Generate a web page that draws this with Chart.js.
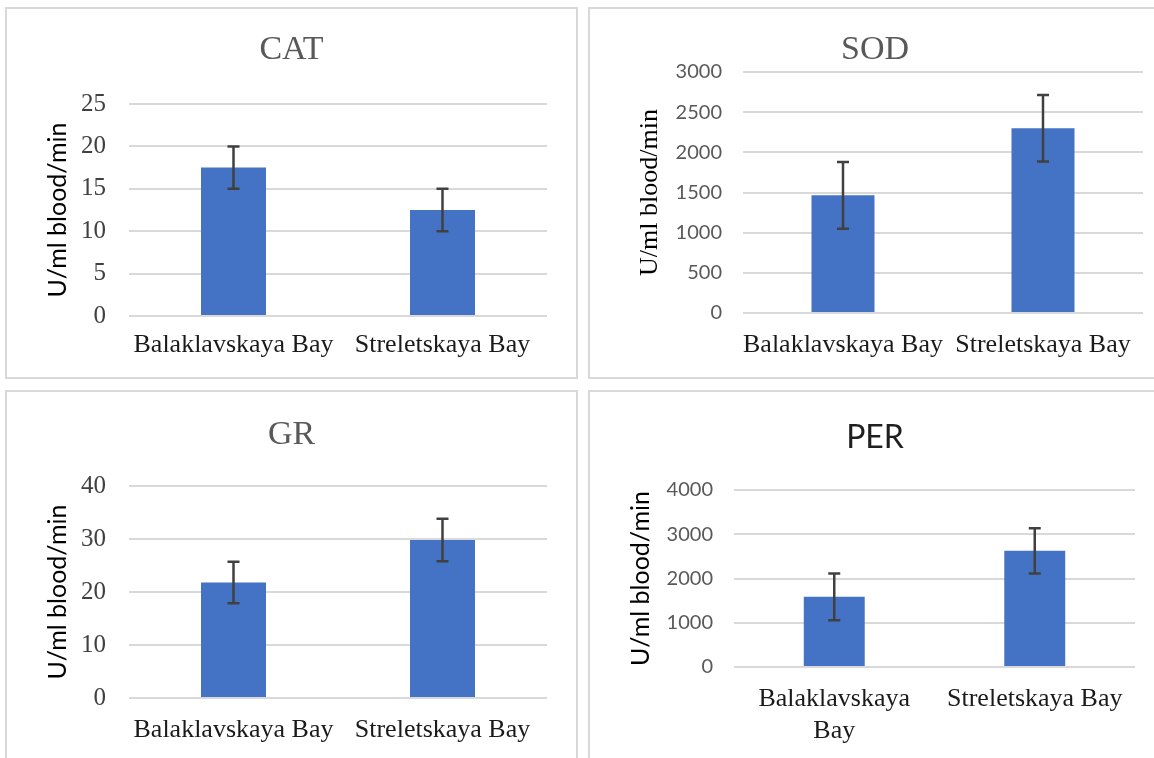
<!DOCTYPE html>
<html>
<head>
<meta charset="utf-8">
<title>Antioxidant enzymes</title>
<script src="https://cdn.jsdelivr.net/npm/chart.js@4.4.1/dist/chart.umd.min.js"></script>
<style>
  html, body { margin: 0; padding: 0; background: #fff; }
  body { width: 1154px; height: 758px; position: relative; overflow: hidden; }
  .panel { position: absolute; border: 2px solid #d9d9d9; box-sizing: border-box; }
  canvas { position: absolute; }
</style>
</head>
<body>
<div class="panel" style="left:5px;top:7px;width:573px;height:372px"></div>
<div class="panel" style="left:588px;top:7px;width:576px;height:372px"></div>
<div class="panel" style="left:5px;top:390px;width:573px;height:380px"></div>
<div class="panel" style="left:588px;top:390px;width:576px;height:380px"></div>

<canvas id="catChart" width="569" height="368" style="left:7px;top:9px"></canvas>
<canvas id="sodChart" width="570" height="368" style="left:590px;top:9px"></canvas>
<canvas id="grChart" width="569" height="376" style="left:7px;top:392px"></canvas>
<canvas id="perChart" width="570" height="376" style="left:590px;top:392px"></canvas>

<script>
// Values (mean and +/- error)
const categories = ['Balaklavskaya Bay', 'Streletskaya Bay'];
const perCategories = [['Balaklavskaya', 'Bay'], 'Streletskaya Bay'];

const catValues = [17.5, 12.5];
const catErrors = [2.5, 2.5];
const sodValues = [1465, 2300];
const sodErrors = [415, 415];
const grValues = [21.8, 29.8];
const grErrors = [3.9, 4.0];
const perValues = [1585, 2625];
const perErrors = [530, 510];

// [min, max, step]
const catTicks = [0, 25, 5];
const sodTicks = [0, 3000, 500];
const grTicks = [0, 40, 10];
const perTicks = [0, 4000, 1000];

const yTitle = 'U/ml blood/min';
const SERIF = "'Liberation Serif', 'Times New Roman', serif";
const SANS = "Lato, 'Liberation Sans', sans-serif";
const BAR_COLOR = '#4472C4';
const GRID_COLOR = '#d9d9d9';

// draws the +/- error whiskers on top of each bar
const errorBars = {
    id: 'errorBars',
    afterDatasetsDraw(chart) {
        const errs = chart.options.plugins.errorBars.errors;
        const meta = chart.getDatasetMeta(0);
        const yScale = chart.scales.y;
        const values = chart.data.datasets[0].data;
        const ctx = chart.ctx;
        ctx.save();
        ctx.strokeStyle = '#404040';
        ctx.lineWidth = 2.5;
        meta.data.forEach((bar, i) => {
            const x = bar.x;
            const yHi = yScale.getPixelForValue(values[i] + errs[i]);
            const yLo = yScale.getPixelForValue(values[i] - errs[i]);
            ctx.beginPath();
            ctx.moveTo(x, yHi); ctx.lineTo(x, yLo);
            ctx.moveTo(x - 6, yHi); ctx.lineTo(x + 6, yHi);
            ctx.moveTo(x - 6, yLo); ctx.lineTo(x + 6, yLo);
            ctx.stroke();
        });
        ctx.restore();
    }
};

function makeChart(id, o) {
    return new Chart(document.getElementById(id), {
        type: 'bar',
        data: {
            labels: o.labels,
            datasets: [{
                data: o.values,
                backgroundColor: BAR_COLOR,
                borderWidth: 0,
                barPercentage: o.barPct,
                categoryPercentage: 1
            }]
        },
        options: {
            responsive: false,
            animation: false,
            layout: { padding: 0 },
            plugins: {
                legend: { display: false },
                tooltip: { enabled: false },
                title: {
                    display: true,
                    text: o.title,
                    color: o.titleColor,
                    font: { family: o.titleFont, size: o.titleSize, weight: 'normal', lineHeight: 1.2 },
                    padding: { top: o.titleTop, bottom: o.titleBottom }
                },
                errorBars: { errors: o.errors }
            },
            scales: {
                x: {
                    grid: { display: false, drawTicks: false },
                    border: { display: false },
                    ticks: {
                        color: '#1a1a1a',
                        font: { family: SERIF, size: 26, lineHeight: 1.2 },
                        padding: o.xPad,
                        maxRotation: 0,
                        minRotation: 0,
                        autoSkip: false
                    },
                    afterFit: s => { s.height = o.xHeight; }
                },
                y: {
                    min: o.ticks[0],
                    max: o.ticks[1],
                    grid: { color: GRID_COLOR, lineWidth: 2, drawTicks: false },
                    border: { display: false },
                    ticks: {
                        stepSize: o.ticks[2],
                        color: o.tickColor,
                        font: { family: o.tickFont, size: o.tickSize },
                        padding: o.yPad,
                        callback: v => String(v)
                    },
                    title: {
                        display: true,
                        text: yTitle,
                        color: '#000',
                        font: { family: o.yTitleFont, size: o.yTitleSize, lineHeight: 1.2 },
                        padding: { top: o.yTitleTop, bottom: 0 }
                    },
                    afterFit: s => { s.width = o.yWidth; }
                },
                // empty spacer on the right so the title stays centred on the panel
                spacer: {
                    type: 'linear',
                    position: 'right',
                    grid: { display: false, drawTicks: false },
                    border: { display: false },
                    ticks: { display: false },
                    afterFit: s => { s.width = o.padRight; }
                }
            }
        },
        plugins: [errorBars]
    });
}

makeChart('catChart', {
    labels: categories, values: catValues, errors: catErrors, ticks: catTicks,
    title: 'CAT', titleFont: SERIF, titleSize: 34, titleColor: '#595959', titleTop: 20.6, titleBottom: 33.6,
    tickFont: SERIF, tickSize: 25, tickColor: '#404040', yPad: 23,
    yTitleFont: SANS, yTitleSize: 25, yTitleTop: 36,
    yWidth: 122, padRight: 29, xHeight: 61, xPad: 14, barPct: 0.311
});

makeChart('sodChart', {
    labels: categories, values: sodValues, errors: sodErrors, ticks: sodTicks,
    title: 'SOD', titleFont: SERIF, titleSize: 34, titleColor: '#595959', titleTop: 20.6, titleBottom: 1.6,
    tickFont: SANS, tickSize: 20, tickColor: '#595959', yPad: 21,
    yTitleFont: SERIF, yTitleSize: 26, yTitleTop: 45,
    yWidth: 153, padRight: 17, xHeight: 64, xPad: 17, barPct: 0.315
});

makeChart('grChart', {
    labels: categories, values: grValues, errors: grErrors, ticks: grTicks,
    title: 'GR', titleFont: SERIF, titleSize: 34, titleColor: '#595959', titleTop: 22.6, titleBottom: 30.6,
    tickFont: SERIF, tickSize: 25, tickColor: '#404040', yPad: 23,
    yTitleFont: SANS, yTitleSize: 25, yTitleTop: 36,
    yWidth: 122, padRight: 29, xHeight: 70, xPad: 17, barPct: 0.311
});

makeChart('perChart', {
    labels: perCategories, values: perValues, errors: perErrors, ticks: perTicks,
    title: 'PER', titleFont: SANS, titleSize: 32, titleColor: '#1f1f1f', titleTop: 26.6, titleBottom: 33,
    tickFont: SANS, tickSize: 20, tickColor: '#595959', yPad: 21,
    yTitleFont: SANS, yTitleSize: 25, yTitleTop: 36,
    yWidth: 144, padRight: 25, xHeight: 101, xPad: 17, barPct: 0.304
});
</script>
</body>
</html>
